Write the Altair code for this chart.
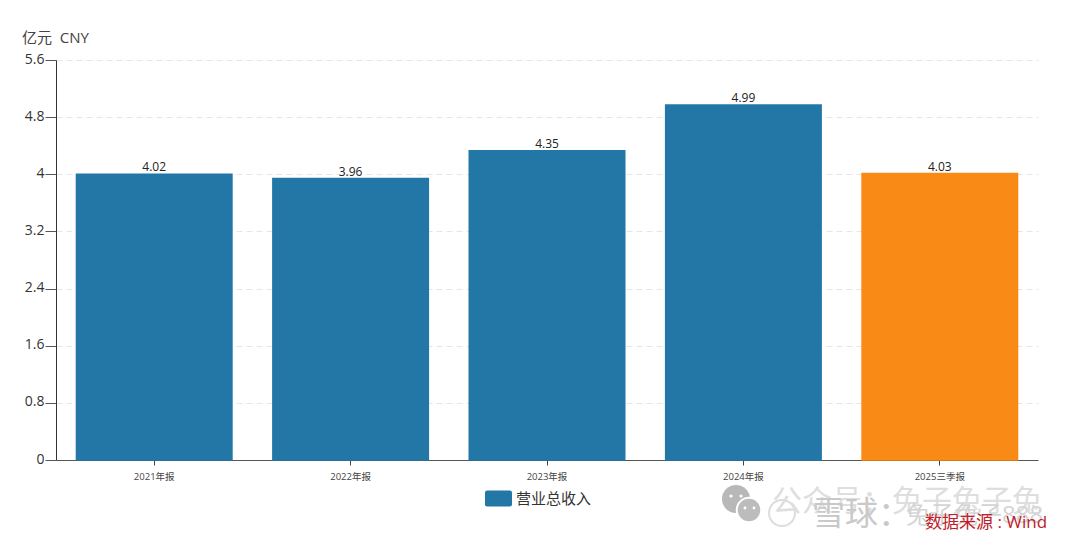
import altair as alt
import pandas as pd

categories = ["2021年报", "2022年报", "2023年报", "2024年报", "2025三季报"]
values = [4.02, 3.96, 4.35, 4.99, 4.03]
labels = ["4.02", "3.96", "4.35", "4.99", "4.03"]
series = ["营业总收入", "营业总收入", "营业总收入", "营业总收入", "三季报"]
y_ticks = [0, 0.8, 1.6, 2.4, 3.2, 4, 4.8, 5.6]
FONT = "Open Sans, Noto Sans CJK SC, sans-serif"
RECT = ("M-0.84,-0.6 L0.84,-0.6 Q1,-0.6 1,-0.44 L1,0.44 Q1,0.6 0.84,0.6 "
        "L-0.84,0.6 Q-1,0.6 -1,0.44 L-1,-0.44 Q-1,-0.6 -0.84,-0.6 Z")

df = pd.DataFrame({"cat": categories, "val": values, "label": labels, "series": series})

x = alt.X("cat:N", sort=categories, title=None,
          scale=alt.Scale(paddingInner=0.2, paddingOuter=0.1),
          axis=alt.Axis(labelAngle=0, labelFontSize=9.5, labelColor="#444", labelFont=FONT,
                        domainColor="#555", domainWidth=1, tickColor="#444", tickSize=5,
                        labelPadding=6, grid=False))
y = alt.Y("val:Q", title=None, scale=alt.Scale(domain=[0, 5.6], nice=False),
          axis=alt.Axis(values=y_ticks, format="~g", labelFontSize=14, labelColor="#333", labelFont=FONT,
                        domainColor="#333", tickColor="#555", tickSize=11, labelPadding=1,
                        labelOverlap=False, labelFlush=False, labelOffset=-1,
                        grid=True, gridColor="#e6e6e6", gridDash=[6, 4], gridWidth=1))

bars = alt.Chart(df).mark_bar(size=157, yOffset=0.7).encode(
    x=x, y=y,
    color=alt.Color("series:N",
        scale=alt.Scale(domain=["营业总收入", "三季报"], range=["#2277a6", "#f98a16"]),
        legend=alt.Legend(title=None, orient="none", legendX=429, legendY=425, values=["营业总收入"],
                          symbolType=RECT, symbolSize=729, symbolStrokeWidth=0, symbolOpacity=1,
                          labelFontSize=15, labelColor="#333", labelFont=FONT, labelOffset=4)))

bar_labels = alt.Chart(df).mark_text(baseline="bottom", dy=1.5, fontSize=12, color="#222", font=FONT).encode(
    x=alt.X("cat:N", sort=categories, title=None), y=alt.Y("val:Q", title=None), text="label:N")

def note(text, px, py, size, color, align="left"):
    return alt.Chart(df.head(1)).mark_text(align=align, baseline="middle", fontSize=size, color=color,
                                            font=FONT).encode(
        x=alt.value(px - 56), y=alt.value(py - 60), text=alt.value(text))

def dot(px, py, size, color, stroke=None):
    kw = {"stroke": stroke, "strokeWidth": 2} if stroke else {}
    return alt.Chart(df.head(1)).mark_point(filled=True, shape="circle", size=size, color=color, opacity=1, **kw).encode(
        x=alt.value(px - 56), y=alt.value(py - 60))

ring = alt.Chart(df.head(1)).mark_point(filled=False, shape="circle", size=676, color="#cfcfcf", strokeWidth=2).encode(
    x=alt.value(782 - 56), y=alt.value(513 - 60))

layers = [bars, bar_labels,
          note("亿元\u00a0\u00a0CNY", 22, 38, 15, "#444"),
          dot(736, 499, 784, "#b8b8b8"), dot(749, 510, 600, "#bcbcbc", "white"),
          dot(731, 496, 10, "white"), dot(741, 496, 10, "white"),
          dot(745, 508, 8, "white"), dot(754, 508, 8, "white"),
          ring,
          note("公众号：兔子兔子兔", 772, 502, 30, "#dedede"),
          note("雪球：", 812, 515, 33, "#c9c9c9"),
          note("兔子兔子888", 906, 516, 24, "#d4d4d4"),
          note("数据来源 : Wind", 925, 523, 17, "#c0202a")]

chart = alt.layer(*layers).resolve_scale(color="independent").properties(
    width=982, height=400,
    padding={"left": 48, "top": 52, "right": 30, "bottom": 80},
    autosize=alt.AutoSizeParams(type="none"),
    background="white",
).configure_view(stroke=None)

chart.save("out.html", embed_options={"renderer": "svg", "actions": False})
